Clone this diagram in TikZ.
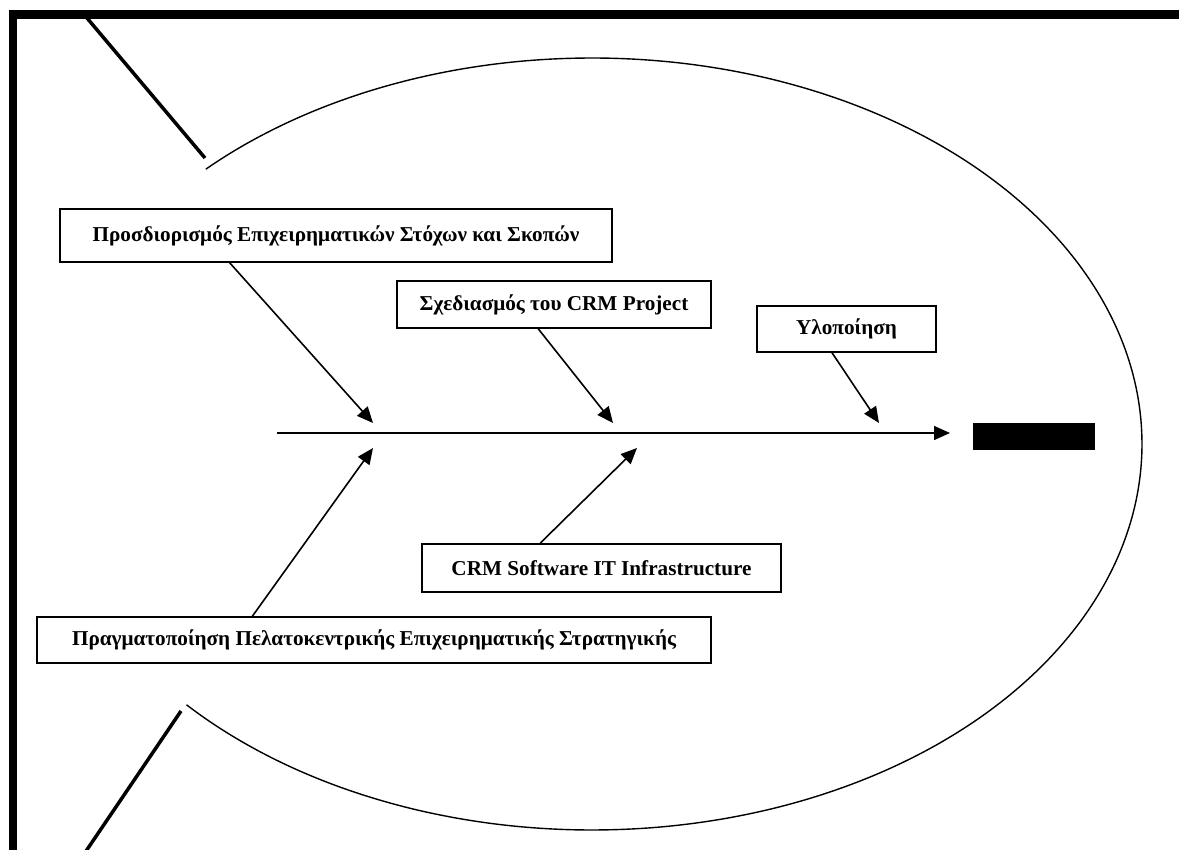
\documentclass[tikz,border=0pt]{standalone}
\usepackage{fontspec}
\setmainfont{Liberation Serif}
\usetikzlibrary{arrows.meta,calc}
\begin{document}
\begin{tikzpicture}[x=1pt,y=-1pt,
  causebox/.style={draw, line width=1.6pt, inner sep=0pt,
    font=\fontsize{21.2}{25}\selectfont\bfseries, align=center},
  feed/.style={line width=1.6pt, -{Triangle[length=16pt,width=14pt]}},
  bone/.style={line width=3.5pt},
  frame/.style={fill=black}]
\useasboundingbox (0,0) rectangle (1179,850);

% frame edges
\fill[frame] (9,10) rectangle (1185,19);
\fill[frame] (9,10) rectangle (17,860);

% tail of the fish
\coordinate (tailTa) at (87,18);
\coordinate (tailTb) at (205,158);
\coordinate (tailBa) at (181,711);
\coordinate (tailBb) at (80,860);
\draw[bone] (tailTa) -- (tailTb);
\draw[bone] (tailBa) -- (tailBb);

% body outline
\draw[line width=1.4pt] plot[domain=-134.6:137.5, samples=240, smooth]
  ({592+550*cos(\x)},{444+386*sin(\x)});

% spine and head
\coordinate (spineL) at (277,433);
\coordinate (spineR) at (950,433);
\draw[feed] (spineL) -- (spineR);
\node[fill=black, draw=black, inner sep=0pt, minimum width=121pt,
  minimum height=26pt] (head) at (1033.5,436) {};

% cause boxes
\node[causebox, minimum width=552pt, minimum height=53pt] (goals) at (336,235.5)
  {Προσδιορισμός Επιχειρηματικών Στόχων και Σκοπών};
\node[causebox, minimum width=314pt, minimum height=47pt] (design) at (554,304.5)
  {Σχεδιασμός του CRM Project};
\node[causebox, minimum width=179pt, minimum height=46pt] (impl) at (846.5,329)
  {Υλοποίηση};
\node[causebox, minimum width=359pt, minimum height=48pt] (soft) at (601.5,568)
  {CRM Software IT Infrastructure};
\node[causebox, minimum width=674pt, minimum height=46pt] (strat) at (374,640)
  {Πραγματοποίηση Πελατοκεντρικής Επιχειρηματικής Στρατηγικής};

% points where the causes meet the spine
\coordinate (j1) at (373,423);
\coordinate (j2) at (613,423);
\coordinate (j3) at (879,423);
\coordinate (j4) at (637,448);
\coordinate (j5) at (373,448);

\draw[feed] ($(goals.south west)!0.308!(goals.south east)$) -- (j1);
\draw[feed] ($(design.south west)!0.45!(design.south east)$) -- (j2);
\draw[feed] ($(impl.south west)!0.42!(impl.south east)$) -- (j3);
\draw[feed] ($(soft.north west)!0.33!(soft.north east)$) -- (j4);
\draw[feed] ($(strat.north west)!0.32!(strat.north east)$) -- (j5);
\end{tikzpicture}
\end{document}
